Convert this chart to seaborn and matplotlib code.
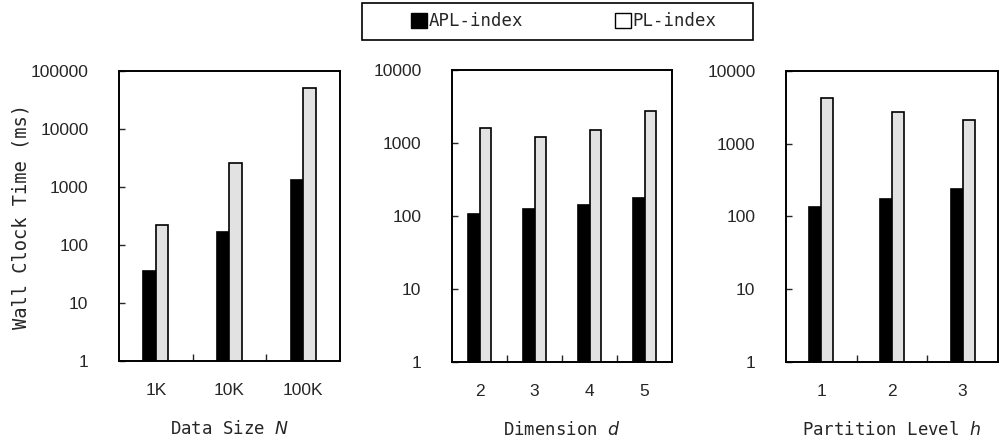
import pandas as pd
import matplotlib.pyplot as plt
import seaborn as sns
from matplotlib.patches import Patch, Rectangle
from matplotlib.ticker import FixedLocator, NullFormatter, NullLocator

# Datos (ms, escala log)
series = ["APL-index", "PL-index"]

size_cats = ["1K", "10K", "100K"]
size_apl = [35, 170, 1300]
size_pl = [220, 2600, 52000]

dim_cats = ["2", "3", "4", "5"]
dim_apl = [105, 125, 140, 175]
dim_pl = [1600, 1200, 1500, 2700]

level_cats = ["1", "2", "3"]
level_apl = [135, 175, 240]
level_pl = [4200, 2700, 2100]

colores = {"APL-index": "black", "PL-index": "#e2e2e2"}
mono = "DejaVu Sans Mono"


def armar_df(cats, apl, pl):
    filas = []
    for c, a, p in zip(cats, apl, pl):
        filas.append({"cat": c, "serie": "APL-index", "ms": a})
        filas.append({"cat": c, "serie": "PL-index", "ms": p})
    return pd.DataFrame(filas)


sns.set_theme(style="white")
plt.rcParams["font.family"] = ["Liberation Sans", "DejaVu Sans"]

fig = plt.figure(figsize=(10.03, 4.45), dpi=100)

paneles = [
    (size_cats, size_apl, size_pl, [0.1186, 0.189, 0.2203, 0.651], 5, 0.34, "Data Size ", "N"),
    (dim_cats, dim_apl, dim_pl, [0.4507, 0.187, 0.2193, 0.656], 4, 0.42, "Dimension ", "d"),
    (level_cats, level_apl, level_pl, [0.7836, 0.187, 0.2114, 0.654], 4, 0.34, "Partition Level ", "h"),
]

for cats, apl, pl, pos, dec, ancho, etiqueta, var in paneles:
    ax = fig.add_axes(pos)
    df = armar_df(cats, apl, pl)
    sns.barplot(data=df, x="cat", y="ms", hue="serie", palette=colores,
                width=ancho, edgecolor="black", linewidth=1.2, ax=ax,
                legend=False, saturation=1)
    ax.set_yscale("log")
    ax.set_ylim(1, 10 ** dec)
    ax.set_xlim(-0.5, len(cats) - 0.5)

    # eje y con numeros enteros
    yt = [10 ** i for i in range(dec + 1)]
    ax.yaxis.set_major_locator(FixedLocator(yt))
    ax.yaxis.set_minor_locator(NullLocator())
    ax.set_yticklabels([str(v) for v in yt])
    ax.tick_params(axis="y", which="major", direction="in", length=4, width=1,
                   left=True, labelsize=12.5, pad=22)

    ax.tick_params(axis="x", which="major", length=0, labelsize=12.5, pad=16)
    ax.xaxis.set_minor_locator(FixedLocator([i + 0.5 for i in range(len(cats) - 1)]))
    ax.xaxis.set_minor_formatter(NullFormatter())
    ax.tick_params(axis="x", which="minor", direction="in", length=5, width=1, bottom=True)

    for sp in ax.spines.values():
        sp.set_color("black")
        sp.set_linewidth(1.4)

    ax.set_ylabel("")
    ax.set_xlabel(etiqueta + r"$\it{" + var + "}$", fontsize=12.5, family=mono, labelpad=16)

fig.axes[0].set_ylabel("Wall Clock Time (ms)", fontsize=13.5, family=mono)
fig.axes[0].yaxis.set_label_coords(-0.40, 0.5)

# leyenda con marco dibujado aparte
handles = [Patch(facecolor="black", edgecolor="black"),
           Patch(facecolor="white", edgecolor="black")]
fig.legend(handles, series, loc="center left", bbox_to_anchor=(411 / 1003, 1 - 21.5 / 445),
           ncol=2, frameon=False, prop={"family": mono, "size": 12.5},
           handlelength=0.9, handleheight=0.9, handletextpad=0.1,
           columnspacing=5.3, borderpad=0, borderaxespad=0)
fig.patches.append(Rectangle((362 / 1003, 1 - 40 / 445), 391 / 1003, 37 / 445,
                             transform=fig.transFigure, fill=False,
                             edgecolor="black", linewidth=1.2))

plt.savefig("out.png", dpi=100)
